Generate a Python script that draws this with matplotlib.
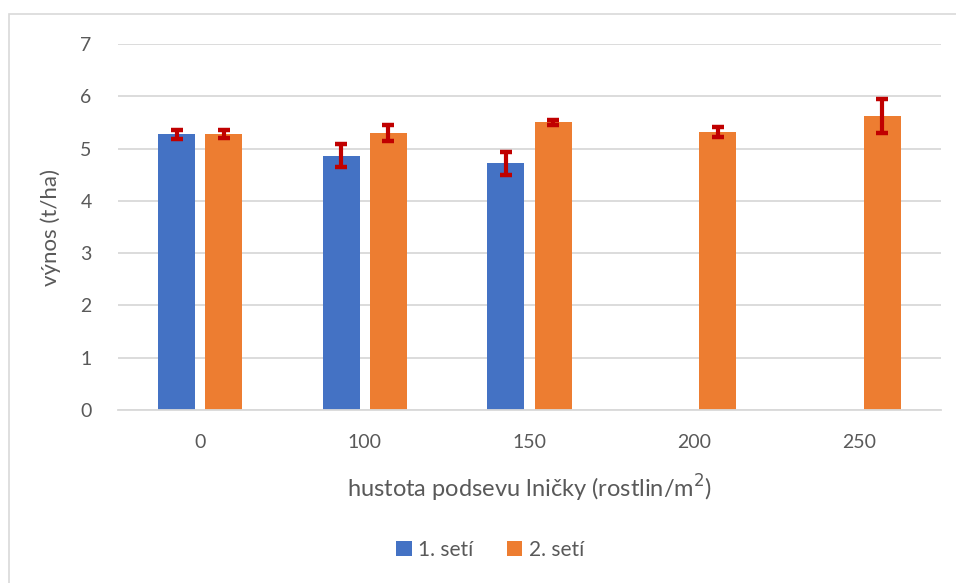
import matplotlib
matplotlib.use("Agg")
import matplotlib.pyplot as plt
import numpy as np
from matplotlib.patches import Rectangle

plt.rcParams["font.family"] = ["Lato", "DejaVu Sans"]

categories = ["0", "100", "150", "200", "250"]
seti1 = [5.27, 4.86, 4.72, np.nan, np.nan]
seti1_err = [0.08, 0.22, 0.22, np.nan, np.nan]
seti2 = [5.28, 5.30, 5.50, 5.32, 5.62]
seti2_err = [0.08, 0.16, 0.05, 0.10, 0.33]

BLUE = "#4472C4"
ORANGE = "#ED7D31"
ERR = "#C00000"
GRID = "#D9D9D9"
TXT = "#595959"

W, H = 956, 583
fig = plt.figure(figsize=(W / 100, H / 100), dpi=100)
ax = fig.add_axes([118 / W, 1 - 410 / H, (941 - 118) / W, (410 - 44) / H])

# chart area border
fig.patches.append(Rectangle((9 / W, -0.05), 1.1, 1 - 14 / H + 0.05,
                             transform=fig.transFigure, fill=False,
                             edgecolor=GRID, linewidth=1.2))

x = np.arange(len(categories))
bw = 0.225
off = 0.143
err_kw = dict(ecolor=ERR, elinewidth=3, capsize=4.5, capthick=3.2)
ax.bar(x - off, seti1, bw, color=BLUE, label="1. setí", zorder=2)
ax.bar(x + off, seti2, bw, color=ORANGE, label="2. setí", zorder=2)
ax.errorbar(x - off, seti1, yerr=seti1_err, fmt="none", zorder=3, **err_kw)
ax.errorbar(x + off, seti2, yerr=seti2_err, fmt="none", zorder=3, **err_kw)

ax.set_xlim(-0.5, len(categories) - 0.5)
ax.set_ylim(0, 7)
ax.set_yticks(range(8))
ax.set_xticks(x)
ax.set_xticklabels(categories)
ax.yaxis.grid(True, color=GRID, linewidth=1.3, zorder=0)
ax.set_axisbelow(True)
for s in ["top", "right", "left"]:
    ax.spines[s].set_visible(False)
ax.spines["bottom"].set_color(GRID)
ax.spines["bottom"].set_linewidth(1.3)
ax.tick_params(axis="both", length=0, labelsize=14, labelcolor=TXT)
ax.tick_params(axis="y", pad=19)
ax.tick_params(axis="x", pad=17)

ax.set_ylabel("výnos (t/ha)", fontsize=16, color=TXT, labelpad=14)
ax.set_xlabel("hustota podsevu lničky (rostlin/m$^{2}$)", fontsize=17, color=TXT, labelpad=16)

leg = fig.legend(loc="center", bbox_to_anchor=(490 / W, 1 - 550 / H), ncol=2,
                 frameon=False, fontsize=15, handlelength=0.75, handleheight=0.75,
                 handletextpad=0.3, columnspacing=1.6)
for t in leg.get_texts():
    t.set_color(TXT)

fig.savefig("out.png", dpi=100)
